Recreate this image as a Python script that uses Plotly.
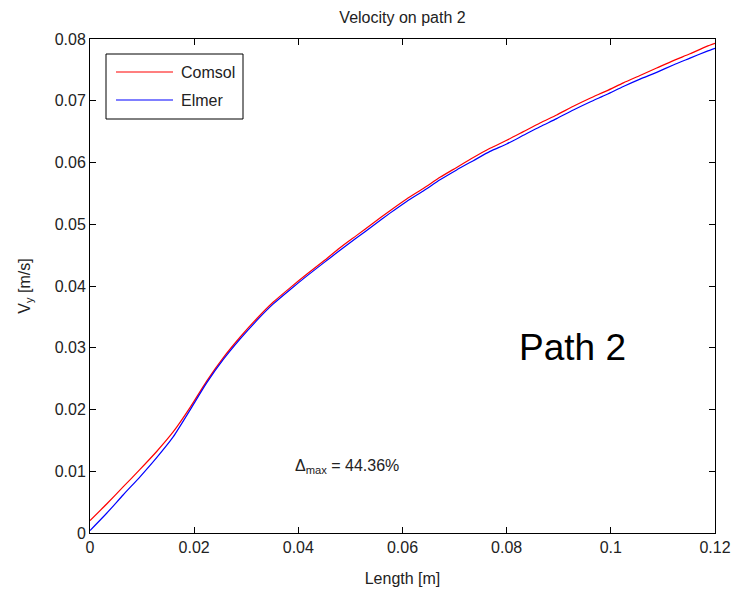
import plotly.graph_objects as go

# Sample positions along path 2 [m]
length_m = [0.0, 0.0032, 0.0064, 0.0096, 0.0128, 0.0160, 0.0192, 0.0224, 0.0256,
            0.0288, 0.0320, 0.0352, 0.0384, 0.0416, 0.0448, 0.0480, 0.0512, 0.0544,
            0.0576, 0.0608, 0.0640, 0.0672, 0.0704, 0.0736, 0.0768, 0.0800, 0.0832,
            0.0864, 0.0896, 0.0928, 0.0960, 0.0992, 0.1024, 0.1056, 0.1088, 0.1120,
            0.1152, 0.1184, 0.1200]

# Vertical velocity from Comsol [m/s]
comsol_vy = [0.0020, 0.0047, 0.0075, 0.0103, 0.0132, 0.0164, 0.0203, 0.0246, 0.0284,
             0.0317, 0.0347, 0.0374, 0.0397, 0.0419, 0.0440, 0.0462, 0.0482, 0.0502,
             0.0522, 0.0541, 0.0558, 0.0576, 0.0592, 0.0608, 0.0623, 0.0636, 0.0650,
             0.0664, 0.0677, 0.0691, 0.0704, 0.0716, 0.0729, 0.0741, 0.0753, 0.0765,
             0.0776, 0.0788, 0.0793]

# Vertical velocity from Elmer [m/s]
elmer_vy = [0.0004, 0.0032, 0.0062, 0.0091, 0.0122, 0.0156, 0.0199, 0.0243, 0.0281,
            0.0314, 0.0344, 0.0371, 0.0394, 0.0416, 0.0437, 0.0458, 0.0478, 0.0498,
            0.0518, 0.0537, 0.0554, 0.0572, 0.0588, 0.0603, 0.0618, 0.0630, 0.0644,
            0.0658, 0.0671, 0.0685, 0.0698, 0.0710, 0.0723, 0.0735, 0.0746, 0.0758,
            0.0769, 0.0780, 0.0785]

x_ticks = [0, 0.02, 0.04, 0.06, 0.08, 0.1, 0.12]
x_tick_labels = ["0", "0.02", "0.04", "0.06", "0.08", "0.1", "0.12"]
y_ticks = [0, 0.01, 0.02, 0.03, 0.04, 0.05, 0.06, 0.07, 0.08]
y_tick_labels = ["0", "0.01", "0.02", "0.03", "0.04", "0.05", "0.06", "0.07", "0.08"]

series_names = ["Comsol", "Elmer"]
series_colors = ["#ff0000", "#0000ff"]

FONT = "Liberation Sans, Arial, sans-serif"
TXT = "#222222"

fig = go.Figure()
for name, ys, col in zip(series_names, [comsol_vy, elmer_vy], series_colors):
    fig.add_trace(go.Scatter(x=length_m, y=ys, mode="lines", name=name,
                             line=dict(color=col, width=1.2, shape="spline", smoothing=0.6),
                             showlegend=False))

W, H = 738, 589
ml, mr, mt, mb = 90, 23, 39, 56
pw, ph = W - ml - mr, H - mt - mb


def px_x(p):
    return (p - ml) / pw


def px_y(p):
    return 1 - (p - mt) / ph


shapes = [
    # legend frame
    dict(type="rect", xref="paper", yref="paper",
         x0=px_x(106), x1=px_x(243), y0=px_y(119), y1=px_y(54),
         line=dict(color="black", width=1), fillcolor="white", layer="above"),
]
annotations = []
for i, (name, col) in enumerate(zip(series_names, series_colors)):
    yy = 72 + 28 * i
    shapes.append(dict(type="line", xref="paper", yref="paper",
                       x0=px_x(116), x1=px_x(173), y0=px_y(yy), y1=px_y(yy),
                       line=dict(color=col, width=1.2), layer="above"))
    annotations.append(dict(x=px_x(179), y=px_y(yy), xref="paper", yref="paper",
                            text=name, showarrow=False, xanchor="left", yanchor="middle",
                            font=dict(family=FONT, size=16, color=TXT)))

annotations.append(dict(x=0.0927, y=0.0300, text="Path 2", showarrow=False,
                        font=dict(family=FONT, size=37, color="black")))
annotations.append(dict(x=0.0493, y=0.0108, text="Δ<sub>max</sub> = 44.36%",
                        showarrow=False, font=dict(family=FONT, size=16, color=TXT)))

fig.update_layout(
    width=W, height=H,
    margin=dict(l=ml, r=mr, t=mt, b=mb),
    paper_bgcolor="white", plot_bgcolor="white",
    font=dict(family=FONT, size=16, color=TXT),
    title=dict(text="Velocity on path 2", x=(ml + pw / 2) / W, xanchor="center",
               y=1 - 17 / H, yanchor="middle", font=dict(family=FONT, size=16, color=TXT)),
    shapes=shapes, annotations=annotations,
    xaxis=dict(range=[0, 0.12], tickvals=x_ticks, ticktext=x_tick_labels,
               ticks="inside", ticklen=6, tickcolor="black", showline=True,
               linecolor="black", linewidth=1, mirror="ticks", showgrid=False,
               zeroline=False, automargin=False,
               title=dict(text="Length [m]", standoff=17,
                          font=dict(family=FONT, size=16))),
    yaxis=dict(range=[0, 0.08], tickvals=y_ticks, ticktext=y_tick_labels,
               ticks="inside", ticklen=6, tickcolor="black", showline=True,
               linecolor="black", linewidth=1, mirror="ticks", showgrid=False,
               zeroline=False, automargin=False,
               title=dict(text="V<sub>y</sub> [m/s]", standoff=20,
                          font=dict(family=FONT, size=16))),
)

fig.write_html("out.html")
